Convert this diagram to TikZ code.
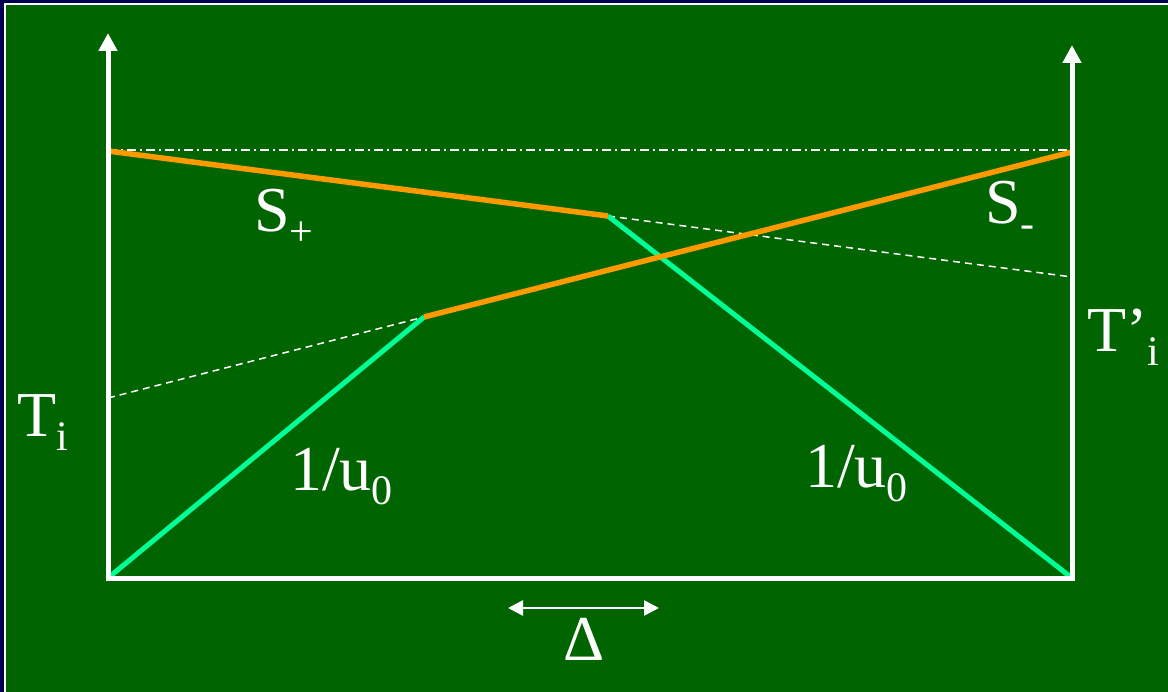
\documentclass[tikz,border=0pt]{standalone}
\usepackage{fontspec}
\setmainfont{Liberation Serif}
\usetikzlibrary{arrows.meta}
\definecolor{bgnavy}{RGB}{0,0,80}
\definecolor{bggreen}{RGB}{0,100,0}
\definecolor{lineorange}{RGB}{255,153,0}
\definecolor{linegreen}{RGB}{0,255,150}
\newcommand{\bigtxt}{\fontsize{64}{64}\selectfont}
\newcommand{\subtxt}[1]{\raisebox{-14pt}{\fontsize{42}{42}\selectfont #1}}
\tikzset{
  axis/.style={draw=white, line width=5pt, -{Triangle[width=18pt,length=18pt]}},
  baseaxis/.style={draw=white, line width=5pt},
  sline/.style={draw=lineorange, line width=5.5pt},
  uline/.style={draw=linegreen, line width=5pt},
  guide/.style={draw=white, line width=1.5pt, dash pattern=on 7pt off 5pt},
  guidedot/.style={draw=white, line width=1.5pt, dash pattern=on 9pt off 4pt on 2pt off 4pt},
  lbl/.style={text=white, inner sep=0pt, anchor=base west, font=\bigtxt},
  delta/.style={draw=white, line width=2.5pt, {Triangle[width=15pt,length=15pt]}-{Triangle[width=15pt,length=15pt]}}
}
\begin{document}
\begin{tikzpicture}[x=1pt,y=-1pt]
\useasboundingbox (0,0) rectangle (1168,692);
\fill[bgnavy] (-2,-2) rectangle (1172,696);
\fill[white] (4,3.5) rectangle (1172,696);
\fill[bggreen] (6,5.5) rectangle (1172,696);
% coordinates
\coordinate (O) at (108,578);
\coordinate (Ltop) at (108,33);
\coordinate (R) at (1072,578);
\coordinate (Rtop) at (1072,45);
\coordinate (LS) at (108,151);
\coordinate (RS) at (1072,152);
\coordinate (LD) at (108,150);
\coordinate (RD) at (1072,150);
\coordinate (Pm) at (608,216);
\coordinate (Qm) at (424,317);
\coordinate (Ti) at (108,398);
\coordinate (Tpi) at (1072,277);
\coordinate (DA) at (508,608);
\coordinate (DB) at (659,608);
% guides
\draw[guidedot] (LD) -- (RD);
\draw[guide] (Ti) -- (Qm);
\draw[guide] (Pm) -- (Tpi);
% green lines
\draw[uline] (O) -- (Qm);
\draw[uline] (Pm) -- (R);
% orange lines
\draw[sline] (LS) -- (Pm);
\draw[sline] (RS) -- (Qm);
% axes
\draw[axis] (O) -- (Ltop);
\draw[axis] (R) -- (Rtop);
\draw[baseaxis] ([xshift=-2.5pt]O) -- ([xshift=2.5pt]R);
% delta arrow
\draw[delta] (DA) -- (DB);
% labels
\node[lbl] (splus) at (254,232) {S\subtxt{+}};
\node[lbl] (sminus) at (985,224) {S\subtxt{-}};
\node[lbl] (tpi) at (1087,352) {T’\subtxt{i}};
\node[lbl] (ti) at (17,437) {T\subtxt{i}};
\node[lbl] (ul) at (290,490) {1/u\subtxt{0}};
\node[lbl] (ur) at (805,488) {1/u\subtxt{0}};
\node[lbl] (dl) at (563,660) {Δ};
\end{tikzpicture}
\end{document}
